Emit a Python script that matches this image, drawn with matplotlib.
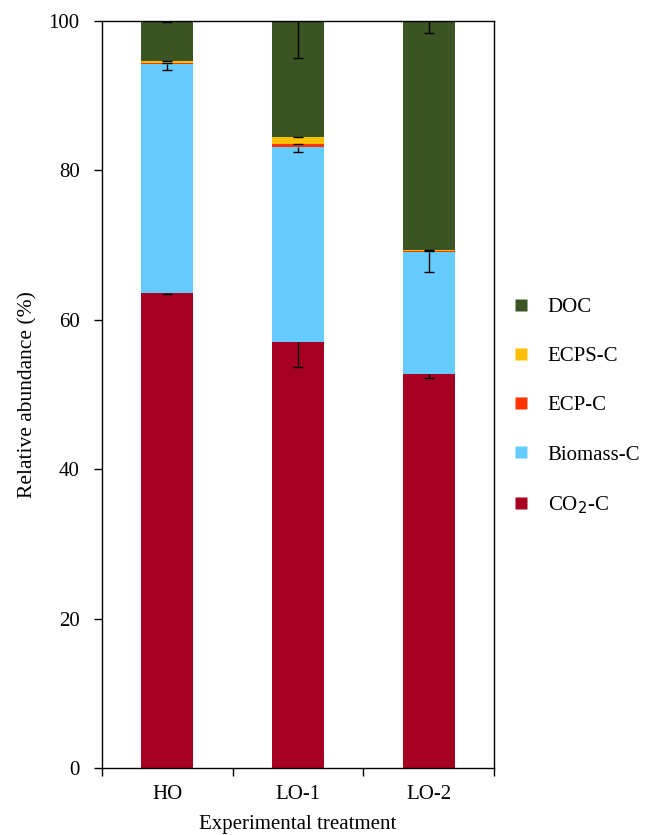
import matplotlib
matplotlib.use("Agg")
import matplotlib.pyplot as plt
from matplotlib.lines import Line2D
import numpy as np

plt.rcParams['font.family'] = ['Liberation Serif', 'DejaVu Serif']

categories = ["HO", "LO-1", "LO-2"]
series_names = ["CO$_2$-C", "Biomass-C", "ECP-C", "ECPS-C", "DOC"]
co2 = [63.6, 57.0, 52.8]
biomass = [30.7, 26.1, 16.3]
ecp = [0.1, 0.4, 0.1]
ecps = [0.3, 1.0, 0.2]
doc = [5.3, 15.5, 30.6]
co2_err = [0.2, 3.3, 0.6]
biomass_err = [0.8, 0.7, 2.7]
ecp_err = [0.0, 0.0, 0.0]
ecps_err = [0.0, 0.0, 0.0]
doc_err = [0.2, 4.9, 1.6]
colors = ["#A50021", "#66CCFF", "#FF3300", "#FFC000", "#3A5424"]

values = [co2, biomass, ecp, ecps, doc]
errs = [co2_err, biomass_err, ecp_err, ecps_err, doc_err]

fig = plt.figure(figsize=(6.45, 8.35), dpi=100)
ax = fig.add_axes([0.158, 0.0802, 0.608, 0.8947])
x = np.arange(len(categories))
bottom = np.zeros(len(categories))
for vals, err, col in zip(values, errs, colors):
    vals = np.array(vals)
    ax.bar(x, vals, 0.4, bottom=bottom, color=col, edgecolor='none', zorder=2)
    tops = bottom + vals
    e = np.array(err)
    eb = ax.errorbar(x, tops, yerr=[e, np.zeros_like(e)], fmt='none', ecolor='black',
                     elinewidth=1, capsize=3.5, capthick=1, zorder=3)
    caps = eb[1]
    if len(caps) > 1:
        caps[1].set_visible(False)
    bottom = tops

ax.set_xlim(-0.5, 2.5)
ax.set_ylim(0, 100)
ax.set_yticks([0, 20, 40, 60, 80, 100])
ax.set_xticks(x)
ax.set_xticklabels(categories)
ax.set_xticks([-0.5, 0.5, 1.5, 2.5], minor=True)
ax.tick_params(axis='x', which='major', length=0, pad=12, labelsize=15)
ax.tick_params(axis='x', which='minor', length=6, direction='out', width=1)
ax.tick_params(axis='y', length=6, direction='out', width=1, labelsize=15, pad=10)
for s in ax.spines.values():
    s.set_linewidth(1)
    s.set_color('black')
ax.set_ylabel("Relative abundance (%)", fontsize=15.5, labelpad=8)
ax.set_xlabel("Experimental treatment", fontsize=15, labelpad=8)

handles = [Line2D([0], [0], marker='s', linestyle='none', markersize=8,
                  markerfacecolor=c, markeredgecolor='none') for c in colors]
leg = fig.legend(handles[::-1], series_names[::-1], loc='center left',
                 bbox_to_anchor=(0.778, 0.513), frameon=False, fontsize=15,
                 labelspacing=1.42, handletextpad=0.81, handlelength=1.0,
                 borderaxespad=0)

fig.savefig("out.png", dpi=100)
